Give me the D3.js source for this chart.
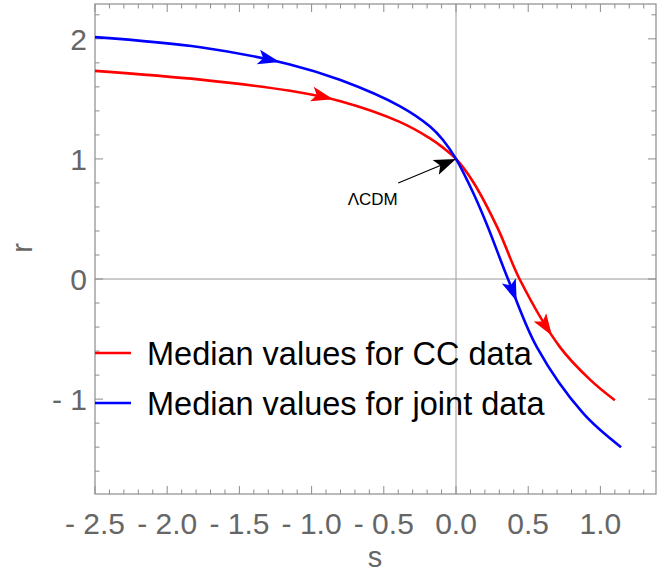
<!DOCTYPE html>
<html lang="en">
<head>
  <meta charset="utf-8">
  <script src="https://d3js.org/d3.v7.min.js"></script>
  <style>
    body { margin: 0; background: #fff; }
    svg { display: block; font-family: "Liberation Sans", Arial, sans-serif; }
  </style>
</head>
<body>
  <svg width="670" height="573"></svg>

  <script>
    const width = 670, height = 573;

    // statefinder curves {s, r}
    const ccS = [-2.5, -1.77, -1.15, -0.80, -0.39, -0.18, -0.09, 0, 0.118, 0.29, 0.44, 0.72, 0.93, 1.10];
    const ccR = [1.733, 1.66, 1.567, 1.48, 1.308, 1.171, 1.094, 1, 0.81, 0.42, 0, -0.567, -0.84, -1.01];

    const jointS = [-2.5, -1.77, -1.15, -0.80, -0.39, -0.18, -0.09, 0, 0.118, 0.215, 0.36, 0.56, 0.88, 1.143];
    const jointR = [2.014, 1.93, 1.787, 1.657, 1.44, 1.27, 1.158, 1, 0.72, 0.45, 0, -0.567, -1.117, -1.40];

    // where the direction arrows sit (s of arrow tip)
    const ccArrows = [-0.85, 0.665];
    const jointArrows = [-1.22, 0.42];

    const xTicks = [-2.5, -2.0, -1.5, -1.0, -0.5, 0.0, 0.5, 1.0];
    const yTicks = [2, 1, 0, -1];
    const xDomain = [-2.5, 1.385];
    const yDomain = [-1.79, 2.29];

    const seriesNames = ["Median values for CC data", "Median values for joint data"];
    const seriesColors = ["#ff0000", "#0000ff"];

    const plotL = 95, plotR = 656, plotT = 4, plotB = 494;
    const x = d3.scaleLinear().domain(xDomain).range([plotL, plotR]);
    const y = d3.scaleLinear().domain(yDomain).range([plotB, plotT]);

    const svg = d3.select("svg");
    const frameColor = "#8c8c8c";
    const labelColor = "#666";

    // zero axes
    svg.append("line")
      .attr("x1", x(0)).attr("x2", x(0)).attr("y1", plotT).attr("y2", plotB)
      .attr("stroke", "#9a9a9a").attr("stroke-width", 1);
    svg.append("line")
      .attr("x1", plotL).attr("x2", plotR).attr("y1", y(0)).attr("y2", y(0))
      .attr("stroke", "#9a9a9a").attr("stroke-width", 1);

    // frame
    svg.append("rect")
      .attr("x", plotL).attr("y", plotT)
      .attr("width", plotR - plotL).attr("height", plotB - plotT)
      .attr("fill", "none").attr("stroke", frameColor).attr("stroke-width", 1.2);

    // ticks (inward on all four sides)
    const xMinor = d3.range(-25, 14).map(d => d / 10);
    const yMinor = d3.range(-8, 12).map(d => d / 5);
    const isMajorX = v => xTicks.some(t => Math.abs(t - v) < 1e-6);
    const isMajorY = v => yTicks.some(t => Math.abs(t - v) < 1e-6);
    const tg = svg.append("g").attr("stroke", frameColor).attr("stroke-width", 1);
    xMinor.forEach(v => {
      const len = isMajorX(v) ? 8 : 4.5;
      tg.append("line").attr("x1", x(v)).attr("x2", x(v)).attr("y1", plotB).attr("y2", plotB - len);
      tg.append("line").attr("x1", x(v)).attr("x2", x(v)).attr("y1", plotT).attr("y2", plotT + len);
    });
    yMinor.forEach(v => {
      const len = isMajorY(v) ? 8 : 4.5;
      tg.append("line").attr("x1", plotL).attr("x2", plotL + len).attr("y1", y(v)).attr("y2", y(v));
      tg.append("line").attr("x1", plotR).attr("x2", plotR - len).attr("y1", y(v)).attr("y2", y(v));
    });

    const fmt = v => (v < 0 ? "- " : "") + Math.abs(v).toFixed(1);
    svg.append("g").selectAll("text")
      .data(xTicks).enter().append("text")
      .attr("x", d => x(d)).attr("y", 534)
      .attr("text-anchor", "middle")
      .attr("fill", labelColor).style("font-size", "30px")
      .text(fmt);

    svg.append("g").selectAll("text")
      .data(yTicks).enter().append("text")
      .attr("x", 87).attr("y", d => y(d)).attr("dy", "0.36em")
      .attr("text-anchor", "end")
      .attr("fill", labelColor).style("font-size", "30px")
      .text(d => (d < 0 ? "- " : "") + Math.abs(d));

    svg.append("text")
      .attr("x", 375).attr("y", 567).attr("text-anchor", "middle")
      .attr("fill", labelColor).style("font-size", "29px").text("s");
    svg.append("text")
      .attr("transform", "translate(32,248) rotate(-90)")
      .attr("text-anchor", "middle")
      .attr("fill", labelColor).style("font-size", "29px").text("r");

    // curves
    const line = d3.line().x(d => x(d[0])).y(d => y(d[1])).curve(d3.curveCatmullRom.alpha(0.5));
    const series = [
      { s: ccS, r: ccR, arrows: ccArrows },
      { s: jointS, r: jointR, arrows: jointArrows }
    ];

    series.forEach((ser, i) => {
      const pts = ser.s.map((s, k) => [s, ser.r[k]]);
      const path = svg.append("path")
        .attr("d", line(pts))
        .attr("fill", "none")
        .attr("stroke", seriesColors[i])
        .attr("stroke-width", 2.6);

      const node = path.node();
      const total = node.getTotalLength();
      ser.arrows.forEach(sv => {
        const tx = x(sv);
        let lo = 0, hi = total;
        for (let it = 0; it < 40; it++) {
          const mid = (lo + hi) / 2;
          if (node.getPointAtLength(mid).x < tx) lo = mid; else hi = mid;
        }
        const p = node.getPointAtLength(lo);
        const p0 = node.getPointAtLength(Math.max(0, lo - 2));
        const ang = Math.atan2(p.y - p0.y, p.x - p0.x) * 180 / Math.PI;
        svg.append("path")
          .attr("d", "M0,0 L-22,-7.5 L-17,0 L-22,7.5 Z")
          .attr("fill", seriesColors[i])
          .attr("transform", `translate(${p.x},${p.y}) rotate(${ang})`);
      });
    });

    // ΛCDM annotation
    const ax0 = x(-0.4), ay0 = y(0.8), ax1 = x(0), ay1 = y(1);
    const aang = Math.atan2(ay1 - ay0, ax1 - ax0) * 180 / Math.PI;
    svg.append("line")
      .attr("x1", ax0).attr("y1", ay0)
      .attr("x2", ax1 - 15 * Math.cos(aang * Math.PI / 180))
      .attr("y2", ay1 - 15 * Math.sin(aang * Math.PI / 180))
      .attr("stroke", "#000").attr("stroke-width", 1.2);
    svg.append("path")
      .attr("d", "M0,0 L-22,-8 L-17,0 L-22,8 Z")
      .attr("fill", "#000")
      .attr("transform", `translate(${ax1},${ay1}) rotate(${aang})`);
    svg.append("text")
      .attr("x", x(-0.75)).attr("y", y(0.62))
      .attr("fill", "#000").style("font-size", "17px")
      .text("ΛCDM");

    // legend
    const legend = svg.append("g");
    seriesNames.forEach((name, i) => {
      const ly = 353 + i * 50;
      legend.append("line")
        .attr("x1", 95).attr("x2", 131).attr("y1", ly).attr("y2", ly)
        .attr("stroke", seriesColors[i]).attr("stroke-width", 2.6);
      legend.append("text")
        .attr("x", 147).attr("y", ly).attr("dy", "0.36em")
        .attr("fill", "#000").style("font-size", "32.5px")
        .text(name);
    });
  </script>
</body>
</html>
